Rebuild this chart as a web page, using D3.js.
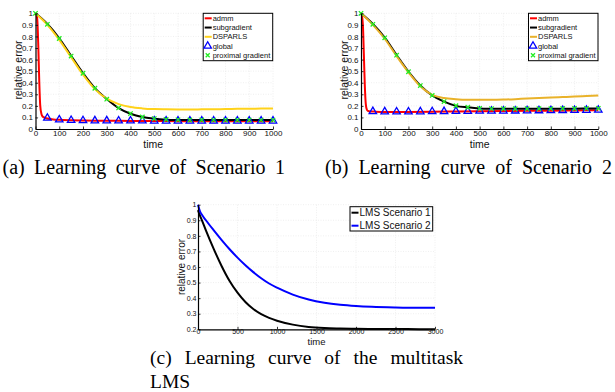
<!DOCTYPE html>
<html>
<head>
<meta charset="utf-8">
<script src="https://cdn.jsdelivr.net/npm/d3@7"></script>
<style>
  body { margin: 0; background: #fff; }
  svg { display: block; }
</style>
</head>
<body>
<svg id="fig" width="615" height="392"></svg>
<script>
// ---------- Scenario 1 ----------
const s1AdmmTime = [0, 4, 8, 12, 16, 20, 25, 30, 40, 50, 75, 100, 150, 200, 300, 400, 500, 600, 700, 800, 900, 1000];
const s1Admm     = [1.0, 0.99, 0.93, 0.7, 0.4, 0.2, 0.13, 0.108, 0.097, 0.09, 0.083, 0.079, 0.075, 0.073, 0.071, 0.07, 0.069, 0.068, 0.067, 0.067, 0.066, 0.066];
const s1Time     = [0, 50, 100, 150, 200, 250, 300, 350, 400, 450, 500, 550, 600, 650, 700, 750, 800, 850, 900, 950, 1000];
const s1Subgrad  = [1.0, 0.908, 0.784, 0.632, 0.483, 0.353, 0.259, 0.181, 0.132, 0.103, 0.089, 0.081, 0.078, 0.077, 0.077, 0.077, 0.077, 0.077, 0.077, 0.077, 0.077];
const s1Dsparls  = [1.0, 0.9, 0.77, 0.62, 0.47, 0.345, 0.262, 0.215, 0.19, 0.178, 0.172, 0.17, 0.169, 0.169, 0.17, 0.171, 0.172, 0.174, 0.175, 0.177, 0.178];
const s1Prox     = [1.0, 0.905, 0.782, 0.63, 0.482, 0.352, 0.258, 0.182, 0.133, 0.104, 0.09, 0.082, 0.079, 0.078, 0.078, 0.077, 0.077, 0.077, 0.077, 0.077, 0.077];
const s1GlobalTime = [50, 100, 150, 200, 250, 300, 350, 400, 450, 500, 550, 600, 650, 700, 750, 800, 850, 900, 950, 1000];
const s1Global   = [0.095, 0.08, 0.075, 0.073, 0.072, 0.072, 0.071, 0.071, 0.071, 0.07, 0.07, 0.07, 0.07, 0.07, 0.07, 0.07, 0.07, 0.07, 0.07, 0.07];

// ---------- Scenario 2 ----------
const s2AdmmTime = [0, 4, 8, 12, 16, 20, 25, 30, 40, 60, 100, 200, 300, 400, 500, 600, 700, 800, 900, 1000];
const s2Admm     = [1.0, 0.98, 0.9, 0.65, 0.38, 0.22, 0.165, 0.155, 0.152, 0.15, 0.148, 0.148, 0.149, 0.151, 0.153, 0.155, 0.157, 0.158, 0.16, 0.162];
const s2Time     = [0, 50, 100, 150, 200, 250, 300, 350, 400, 450, 500, 550, 600, 650, 700, 750, 800, 850, 900, 950, 1000];
const s2Subgrad  = [1.0, 0.908, 0.79, 0.64, 0.497, 0.376, 0.29, 0.236, 0.2, 0.187, 0.178, 0.175, 0.174, 0.174, 0.174, 0.175, 0.175, 0.176, 0.176, 0.177, 0.178];
const s2Dsparls  = [1.0, 0.9, 0.78, 0.63, 0.49, 0.37, 0.295, 0.268, 0.258, 0.253, 0.252, 0.252, 0.254, 0.258, 0.263, 0.267, 0.272, 0.276, 0.28, 0.285, 0.29];
const s2Prox     = [1.0, 0.905, 0.788, 0.638, 0.495, 0.375, 0.29, 0.237, 0.201, 0.188, 0.179, 0.176, 0.175, 0.175, 0.175, 0.176, 0.176, 0.177, 0.177, 0.178, 0.179];
const s2GlobalTime = [50, 100, 150, 200, 250, 300, 350, 400, 450, 500, 550, 600, 650, 700, 750, 800, 850, 900, 950, 1000];
const s2Global   = [0.152, 0.15, 0.149, 0.149, 0.15, 0.151, 0.152, 0.153, 0.154, 0.155, 0.155, 0.156, 0.157, 0.158, 0.159, 0.16, 0.161, 0.162, 0.163, 0.164];

// ---------- Multitask LMS ----------
const lmsTime = [0, 25, 50, 100, 200, 300, 400, 500, 600, 700, 800, 900, 1000, 1200, 1400, 1600, 1800, 2000, 2200, 2500, 2800, 3000];
const lms1    = [0.965, 0.93, 0.9, 0.835, 0.715, 0.605, 0.51, 0.435, 0.375, 0.33, 0.297, 0.273, 0.255, 0.23, 0.215, 0.208, 0.205, 0.203, 0.202, 0.202, 0.201, 0.201];
const lms2    = [1.0, 0.958, 0.935, 0.9, 0.835, 0.773, 0.714, 0.66, 0.611, 0.567, 0.528, 0.494, 0.467, 0.423, 0.391, 0.37, 0.357, 0.349, 0.344, 0.34, 0.338, 0.338];

// ---------- tick labels ----------
const scenTicksX = [0, 100, 200, 300, 400, 500, 600, 700, 800, 900, 1000];
const scenTicksY = [0, 0.1, 0.2, 0.3, 0.4, 0.5, 0.6, 0.7, 0.8, 0.9, 1];
const lmsTicksX  = [0, 500, 1000, 1500, 2000, 2500, 3000];
const lmsTicksY  = [0.2, 0.3, 0.4, 0.5, 0.6, 0.7, 0.8, 0.9, 1];

const legendScen = ["admm", "subgradient", "DSPARLS", "global", "proximal gradient"];
const legendLms  = ["LMS Scenario 1", "LMS Scenario 2"];

const captions = {
  a: "(a) Learning curve of Scenario 1",
  b: "(b) Learning curve of Scenario 2",
  c1: "(c) Learning curve of the multitask",
  c2: "LMS"
};

const SANS = '"Liberation Sans", Arial, Helvetica, sans-serif';
const SERIF = '"Liberation Serif", "Times New Roman", serif';
const svg = d3.select("#fig");
const fmt = d => String(+d.toFixed(1));
const zip = (xs, ys) => xs.map((x, i) => [x, ys[i]]);

function panel(o) {
  const g = svg.append("g");
  const x = d3.scaleLinear().domain(o.xDomain).range([o.left, o.right]);
  const y = d3.scaleLinear().domain(o.yDomain).range([o.bottom, o.top]);

  // faint grid
  const grid = g.append("g").attr("stroke", "#e4e4e4").attr("stroke-width", 0.6)
    .attr("stroke-dasharray", "1,1.5");
  grid.selectAll("line.vx").data(o.xTicks.slice(1)).join("line")
    .attr("x1", d => x(d)).attr("x2", d => x(d)).attr("y1", o.top).attr("y2", o.bottom);
  grid.selectAll("line.hy").data(o.yTicks.slice(1)).join("line")
    .attr("x1", o.left).attr("x2", o.right).attr("y1", d => y(d)).attr("y2", d => y(d));

  const line = d3.line().x(d => x(d[0])).y(d => y(d[1])).curve(d3.curveMonotoneX);
  o.lines.forEach(s => {
    g.append("path").datum(s.data).attr("d", line)
      .attr("fill", "none").attr("stroke", s.color).attr("stroke-width", s.width || 2)
      .attr("stroke-linejoin", "round");
  });

  (o.triangles || []).forEach(s => {
    g.append("g").selectAll("path").data(s.data).join("path")
      .attr("transform", d => `translate(${x(d[0])},${y(d[1])})`)
      .attr("d", d3.symbol(d3.symbolTriangle, 24))
      .attr("fill", "none").attr("stroke", "#0000ff").attr("stroke-width", 1.3);
  });
  (o.crosses || []).forEach(s => {
    g.append("g").selectAll("path").data(s.data).join("path")
      .attr("transform", d => `translate(${x(d[0])},${y(d[1])})`)
      .attr("d", "M-2.2,-2.2L2.2,2.2M-2.2,2.2L2.2,-2.2")
      .attr("fill", "none").attr("stroke", "#22ee22").attr("stroke-width", 1.3);
  });

  // axes
  const ax = g.append("g").attr("transform", `translate(0,${o.bottom})`)
    .call(d3.axisBottom(x).tickValues(o.xTicks).tickFormat(d3.format("d"))
      .tickSize(-2.5).tickSizeOuter(0).tickPadding(o.padX));
  const ay = g.append("g").attr("transform", `translate(${o.left},0)`)
    .call(d3.axisLeft(y).tickValues(o.yTicks).tickFormat(fmt)
      .tickSize(-2.5).tickSizeOuter(0).tickPadding(o.padY));
  [ax, ay].forEach(a => {
    a.select(".domain").attr("stroke", "#000").attr("stroke-width", 1.2);
    a.selectAll(".tick line").attr("stroke", "#000").attr("stroke-width", 0.8);
    a.selectAll(".tick text").attr("font-family", SANS).attr("font-size", o.tickFont).attr("fill", "#111");
  });

  // axis titles
  g.append("text").attr("x", (o.left + o.right) / 2 + o.timeDx).attr("y", o.timeY)
    .attr("text-anchor", "middle").attr("font-family", SANS).attr("font-size", o.timeFont || o.labelFont)
    .attr("fill", "#111").text("time");
  g.append("text").attr("transform", `translate(${o.ylabX},${o.ylabY}) rotate(-90)`)
    .attr("text-anchor", "middle").attr("font-family", SANS).attr("font-size", o.labelFont)
    .attr("fill", "#111").text("relative error");

  // legend
  const L = o.legend;
  const lg = g.append("g");
  lg.append("rect").attr("x", L.x).attr("y", L.y).attr("width", L.w).attr("height", L.h)
    .attr("fill", "#fff").attr("stroke", "#000").attr("stroke-width", 1);
  L.items.forEach((it, i) => {
    const cy = L.y + L.first + i * L.step;
    if (it.kind === "line") {
      lg.append("line").attr("x1", L.x + 1.5).attr("x2", L.x + 8.5).attr("y1", cy).attr("y2", cy)
        .attr("stroke", it.color).attr("stroke-width", 2);
    } else if (it.kind === "tri") {
      lg.append("path").attr("transform", `translate(${L.x + 4.5},${cy})`)
        .attr("d", d3.symbol(d3.symbolTriangle, 24))
        .attr("fill", "none").attr("stroke", "#0000ff").attr("stroke-width", 1.3);
    } else {
      lg.append("path").attr("transform", `translate(${L.x + 4.5},${cy})`)
        .attr("d", "M-2,-2L2,2M-2,2L2,-2")
        .attr("fill", "none").attr("stroke", "#22ee22").attr("stroke-width", 1.3);
    }
    lg.append("text").attr("x", L.x + 9.5).attr("y", cy).attr("dy", "0.35em")
      .attr("font-family", SANS).attr("font-size", L.font).attr("fill", "#111").text(it.label);
  });
}

function scenLegend(x, dspColor) {
  return {
    x: x, y: 13.3, w: 69.5, h: 47.4, first: 5, step: 9.25, font: 7.5,
    items: [
      { kind: "line", color: "#ff0000", label: legendScen[0] },
      { kind: "line", color: "#000000", label: legendScen[1] },
      { kind: "line", color: dspColor, label: legendScen[2] },
      { kind: "tri", label: legendScen[3] },
      { kind: "cross", label: legendScen[4] }
    ]
  };
}

const gold1 = "#ffd21a", gold2 = "#e9b22a";

panel({
  left: 35.5, right: 273, top: 13.3, bottom: 129, xDomain: [0, 1000], yDomain: [0, 1],
  xTicks: scenTicksX, yTicks: scenTicksY, tickFont: 8, labelFont: 10.5, padX: 1, padY: 2.5,
  timeDx: -1, timeY: 147.5, ylabX: 22, ylabY: 70,
  lines: [
    { color: "#ff0000", data: zip(s1AdmmTime, s1Admm) },
    { color: "#000000", data: zip(s1Time, s1Subgrad) },
    { color: gold1, data: zip(s1Time, s1Dsparls) }
  ],
  triangles: [{ data: zip(s1GlobalTime, s1Global) }],
  crosses: [{ data: zip(s1Time, s1Prox) }],
  legend: scenLegend(203.2, gold1)
});

panel({
  left: 361, right: 598.3, top: 13.3, bottom: 129, xDomain: [0, 1000], yDomain: [0, 1],
  xTicks: scenTicksX, yTicks: scenTicksY, tickFont: 8, labelFont: 10.5, padX: 1, padY: 2.5,
  timeDx: 0, timeY: 147.5, ylabX: 347.5, ylabY: 70,
  lines: [
    { color: "#ff0000", data: zip(s2AdmmTime, s2Admm) },
    { color: "#000000", data: zip(s2Time, s2Subgrad) },
    { color: gold2, data: zip(s2Time, s2Dsparls) }
  ],
  triangles: [{ data: zip(s2GlobalTime, s2Global) }],
  crosses: [{ data: zip(s2Time, s2Prox) }],
  legend: scenLegend(528.5, gold2)
});

panel({
  left: 198, right: 435, top: 204.7, bottom: 329.3, xDomain: [0, 3000], yDomain: [0.2, 1],
  xTicks: lmsTicksX, yTicks: lmsTicksY, tickFont: 7, labelFont: 10, timeFont: 9.5, padX: 0, padY: 1.5,
  timeDx: 0, timeY: 344.6, ylabX: 185, ylabY: 267,
  lines: [
    { color: "#000000", data: zip(lmsTime, lms1), width: 2 },
    { color: "#0000ff", data: zip(lmsTime, lms2), width: 2 }
  ],
  legend: {
    x: 350, y: 206.7, w: 82.7, h: 24.3, first: 6, step: 13, font: 10,
    items: [
      { kind: "line", color: "#000000", label: legendLms[0] },
      { kind: "line", color: "#0000ff", label: legendLms[1] }
    ]
  }
});

// captions, justified across their column width
function caption(text, x, y, size, target) {
  const t = svg.append("text").attr("x", x).attr("y", y)
    .attr("font-family", SERIF).attr("font-size", size).attr("fill", "#000").text(text);
  if (target) {
    const natural = t.node().getComputedTextLength();
    const spaces = (text.match(/ /g) || []).length;
    t.style("word-spacing", ((target - natural) / spaces) + "px");
  }
}
caption(captions.a, 2.5, 174, 20, 282.5);
caption(captions.b, 325, 174, 20, 287);
caption(captions.c1, 150, 364, 19.5, 313);
caption(captions.c2, 150, 387.5, 19.5, null);
</script>
</body>
</html>
